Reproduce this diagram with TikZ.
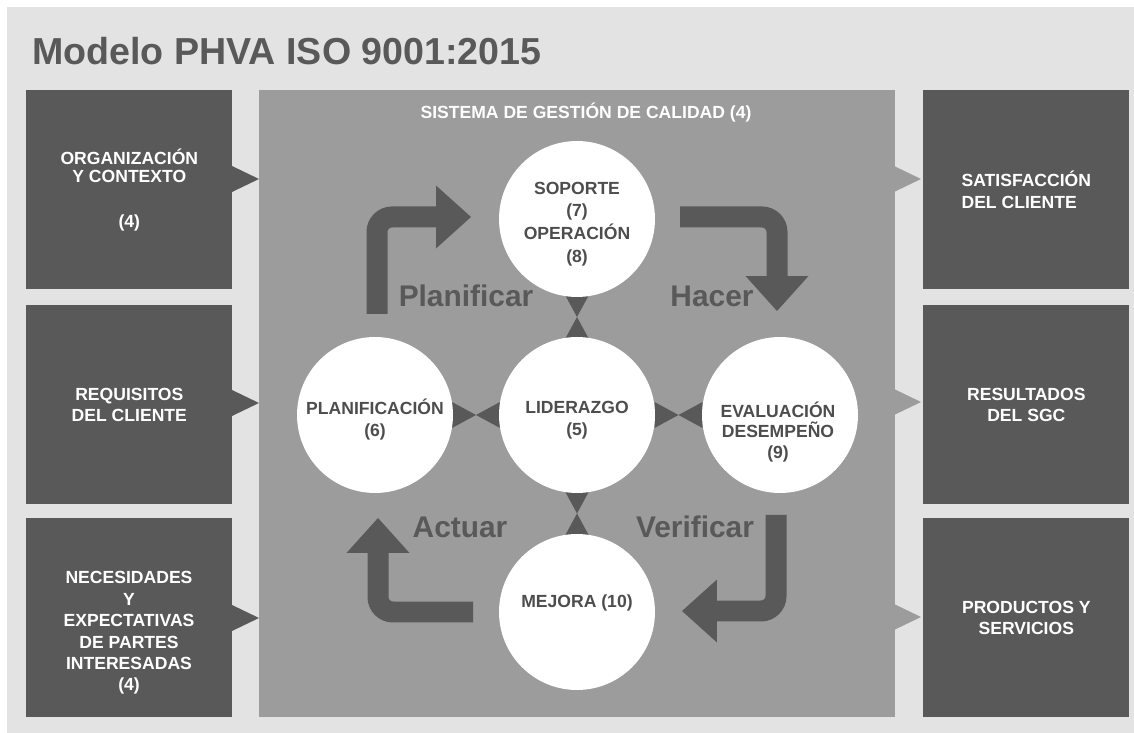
\documentclass[tikz,border=0pt]{standalone}
\usepackage{fontspec}
\setmainfont{Liberation Sans}
\usepackage{tikz}
\usetikzlibrary{arrows.meta,calc,positioning}
\definecolor{paper}{HTML}{E3E3E3}
\definecolor{boxdark}{HTML}{595959}
\definecolor{sgcgray}{HTML}{9C9C9C}
\definecolor{inkgray}{HTML}{4D4D4D}
\tikzset{%
	sidebox/.style    = {anchor=north west, fill=boxdark, text=white, minimum width=4.12cm, minimum height=3.98cm, inner sep=0pt, align=center, font=\bfseries\fontsize{10}{12}\selectfont},
	boxtext/.style    = {text=white, align=center, font=\bfseries\fontsize{10}{12.2}\selectfont},
	stage/.style      = {circle, fill=white, minimum size=3.12cm, inner sep=0pt},
	stagetext/.style  = {text=inkgray, align=center, font=\bfseries\fontsize{10}{12.5}\selectfont},
	cyclelabel/.style = {anchor=base, text=boxdark, font=\bfseries\fontsize{17}{20}\selectfont},
	bigarrow/.style   = {draw=boxdark, line width=0.42cm, rounded corners=0.3cm, -{Triangle[width=1.26cm,length=0.7cm,line width=0pt]}},
}
\newcommand{\tiepair}[3]{%
	\fill[boxdark, shift={($(#1)!.5!(#2)$)}, rotate=#3] (0,0) -- (-24,-13) -- (-24,13) -- cycle (0,0) -- (24,-13) -- (24,13) -- cycle;
}

\begin{document}
\begin{tikzpicture}[x=0.02cm, y=-0.02cm]
	\useasboundingbox (0,0) rectangle (1134,733);
	\fill[white] (0,0) rectangle (1134,733);
	\fill[paper] (7,7) rectangle (1134,733);
	\node[anchor=base west, inner sep=0pt, text=boxdark, font=\bfseries\fontsize{21.4}{24}\selectfont] (title) at (32,65) {Modelo PHVA ISO 9001:2015};
	
	% sistema de gestion
	\node[anchor=north west, fill=sgcgray, minimum width=12.72cm, minimum height=12.54cm, inner sep=0pt] (sgc) at (259,90) {};
	\node[anchor=base, text=white, font=\bfseries\fontsize{10}{12}\selectfont] (sgctitle) at (586,119) {SISTEMA DE GESTIÓN DE CALIDAD (4)};
	
	% entradas
	\node[sidebox, font=\bfseries\fontsize{10}{10.5}\selectfont] (org) at (26,90) {ORGANIZACIÓN\\Y CONTEXTO\\[15pt](4)};
	\node[sidebox] (req) at (26,305) {REQUISITOS\\DEL CLIENTE};
	\node[sidebox] (nec) at (26,518) {};
	\node[boxtext] (nectext) at (129,633) {NECESIDADES\\Y\\EXPECTATIVAS\\DE PARTES\\INTERESADAS\\(4)};
	\fill[boxdark] (232,166) -- (259,179) -- (232,192) -- cycle;
	\fill[boxdark] (232,390) -- (259,403) -- (232,416) -- cycle;
	\fill[boxdark] (232,605) -- (259,618) -- (232,631) -- cycle;
	
	% salidas
	\node[sidebox, align=left] (sat) at (923,90) {SATISFACCIÓN\\DEL CLIENTE};
	\node[sidebox] (res) at (923,305) {RESULTADOS\\DEL SGC};
	\node[sidebox] (prod) at (923,518) {PRODUCTOS Y\\SERVICIOS};
	\fill[sgcgray] (894,166) -- (921,179) -- (894,192) -- cycle;
	\fill[sgcgray] (894,389) -- (921,402) -- (894,415) -- cycle;
	\fill[sgcgray] (894,604) -- (921,617) -- (894,630) -- cycle;
	
	% ciclo
	\draw[bigarrow] (377,314) |- (471,217);
	\draw[bigarrow] (680,217) -| (777,311);
	\draw[bigarrow] (776,515) |- (682,611);
	\draw[bigarrow] (473,612) -| (378,518);
	\node[cyclelabel] (plan) at (466,307) {Planificar};
	\node[cyclelabel] (hacer) at (712,307) {Hacer};
	\node[cyclelabel] (actuar) at (460,538) {Actuar};
	\node[cyclelabel] (verif) at (695,538) {Verificar};
	
	\coordinate (c-lid) at (577,415);
	\coordinate (c-sop) at (577,219);
	\coordinate (c-pla) at (375,415);
	\coordinate (c-eva) at (780,415);
	\coordinate (c-mej) at (577,612);
	\tiepair{c-pla}{c-lid}{0}
	\tiepair{c-lid}{c-eva}{0}
	\tiepair{c-sop}{c-lid}{90}
	\tiepair{c-lid}{c-mej}{90}
	
	\node[stage] (sop) at (c-sop) {};
	\node[stage] (lid) at (c-lid) {};
	\node[stage] (pla) at (c-pla) {};
	\node[stage] (eva) at (c-eva) {};
	\node[stage] (mej) at (c-mej) {};
	\node[stagetext, font=\bfseries\fontsize{10}{13}\selectfont] (soptext) at ($(sop)+(0,5)$) {SOPORTE\\(7)\\OPERACIÓN\\(8)};
	\node[stagetext] (lidtext) at ($(lid)+(0,5)$) {LIDERAZGO\\(5)};
	\node[stagetext] (platext) at ($(pla)+(0,5)$) {PLANIFICACIÓN\\(6)};
	\node[stagetext, font=\bfseries\fontsize{10}{11.6}\selectfont] (evatext) at ($(eva)+(-2,17)$) {EVALUACIÓN\\DESEMPEÑO\\(9)};
	\node[stagetext] (mejtext) at ($(mej)+(0,-9)$) {MEJORA (10)};
\end{tikzpicture}
\end{document}
